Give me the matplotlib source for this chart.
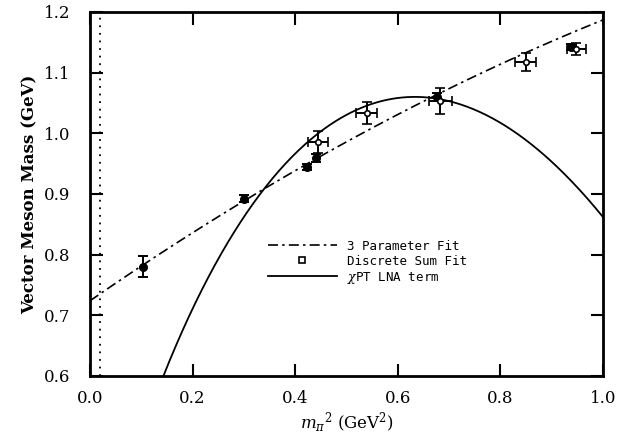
import matplotlib
matplotlib.use("Agg")

import matplotlib.pyplot as plt
import numpy as np

# discrete sum fit (filled)
ds_x = [0.103, 0.2995, 0.423, 0.441, 0.676, 0.937]
ds_y = [0.780, 0.892, 0.945, 0.959, 1.060, 1.143]
ds_yerr = [0.0175, 0.006, 0.005, 0.007, 0.007, 0.005]

# lattice points (open, with x and y errors)
lat_x = [0.444, 0.539, 0.683, 0.849, 0.948]
lat_y = [0.986, 1.034, 1.053, 1.117, 1.139]
lat_xerr = [0.020, 0.021, 0.023, 0.021, 0.019]
lat_yerr = [0.018, 0.018, 0.021, 0.015, 0.010]

# 3 parameter fit: a + b m^2 + c m^4
fit3_a, fit3_b, fit3_c = 0.724, 0.585, -0.122

# chiPT LNA term: a + b m^2 + c m^3
lna_a, lna_b, lna_c = 0.2034, 4.0576, -3.399

phys_mpi2 = 0.0195

plt.rcParams["font.family"] = "DejaVu Serif"
plt.rcParams["mathtext.fontset"] = "dejavuserif"

fig = plt.figure(figsize=(6.18, 4.43), dpi=100)
ax = fig.add_axes([90 / 618, 1 - 376 / 443, 513 / 618, 364 / 443])

ax.axvline(phys_mpi2, color="black", lw=1.3, ls=(0, (1, 3.2)))

xs = np.linspace(0.0, 1.0, 400)
ax.plot(xs, fit3_a + fit3_b * xs + fit3_c * xs ** 2, color="black", lw=1.2,
        dashes=(6, 2.5, 1.5, 2.5))
ax.plot(xs, lna_a + lna_b * xs + lna_c * xs ** 1.5, color="black", lw=1.3, zorder=3)

ax.errorbar(ds_x, ds_y, yerr=ds_yerr, fmt="o", ms=5.5, mfc="black", mec="black",
            ecolor="black", elinewidth=1.4, capsize=3.5, capthick=1.4, zorder=4)
ax.errorbar(lat_x, lat_y, xerr=lat_xerr, yerr=lat_yerr, fmt="o", ms=4, mfc="white",
            mec="black", mew=1.2, ecolor="black", elinewidth=1.4, capsize=3.5,
            capthick=1.4, zorder=5)

# legend handles
h1 = ax.plot([], [], color="black", lw=1.2, dashes=(6, 2.5, 1.5, 2.5))[0]
h2 = ax.plot([], [], "s", ms=4, mfc="white", mec="black", mew=1.2)[0]
h3 = ax.plot([], [], color="black", lw=1.3)[0]
ax.legend([h1, h2, h3], ["3 Parameter Fit", "Discrete Sum Fit", r"$\chi$PT LNA term"],
          loc="upper left", bbox_to_anchor=(0.325, 0.405), frameon=False,
          handlelength=5.5, handletextpad=0.8, labelspacing=0.15,
          prop={"family": "DejaVu Sans Mono", "size": 9})

ax.set_xlim(0.0, 1.0)
ax.set_ylim(0.6, 1.2)
ax.set_xticks([0.0, 0.2, 0.4, 0.6, 0.8, 1.0])
ax.set_yticks([0.6, 0.7, 0.8, 0.9, 1.0, 1.1, 1.2])
ax.set_xticklabels(["0.0", "0.2", "0.4", "0.6", "0.8", "1.0"])
ax.set_yticklabels(["0.6", "0.7", "0.8", "0.9", "1.0", "1.1", "1.2"])
ax.tick_params(direction="in", length=9, width=1.5, top=True, right=True,
               labelsize=12)
ax.tick_params(axis="x", pad=10)
ax.tick_params(axis="y", pad=14)
for s in ax.spines.values():
    s.set_linewidth(2)

ax.set_xlabel(r"$m_\pi{}^2$ (GeV$^2$)", fontsize=12, labelpad=3)
ax.set_ylabel("Vector Meson Mass (GeV)", fontsize=12, fontweight="bold", labelpad=4)

fig.savefig("out.png", dpi=100)
